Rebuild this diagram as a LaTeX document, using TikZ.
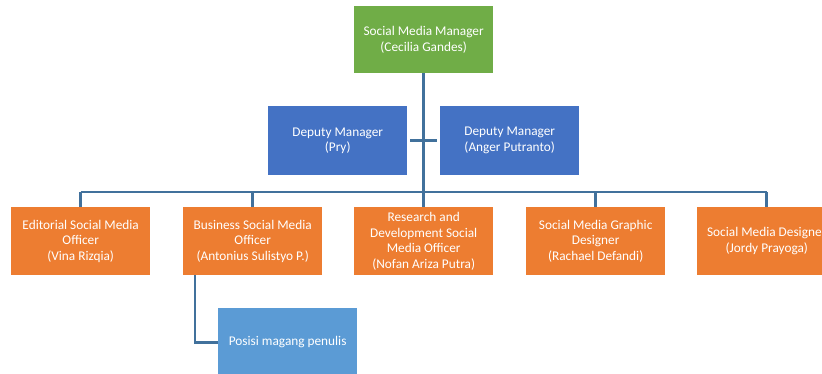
\documentclass[tikz,border=0pt]{standalone}
\usepackage{fontspec}
\setmainfont{Carlito}
\definecolor{mgrgreen}{RGB}{112,173,71}
\definecolor{depblue}{RGB}{68,114,196}
\definecolor{staffor}{RGB}{237,125,49}
\definecolor{internblue}{RGB}{91,155,213}
\definecolor{linkblue}{RGB}{65,113,156}
\begin{document}
\begin{tikzpicture}[x=1pt,y=-1pt,
  box/.style={draw=none, anchor=north west, minimum width=139pt, align=center,
    text=white, inner sep=0pt, font=\fontsize{13.3}{15.7}\selectfont},
  mgrbox/.style={box, fill=mgrgreen, minimum height=67pt},
  depbox/.style={box, fill=depblue, minimum height=69pt},
  staffbox/.style={box, fill=staffor, minimum height=68pt},
  internbox/.style={box, fill=internblue, minimum height=68pt},
  link/.style={draw=linkblue, line width=2.8pt}
]
\useasboundingbox (0,0) rectangle (822,373);
\clip (0,0) rectangle (822,373);

% manager
\node[mgrbox] (mgr) at (354,6) {Social Media Manager\\(Cecilia Gandes)};

% deputies
\node[depbox] (dep1) at (268,106) {Deputy Manager\\(Pry)};
\node[depbox] (dep2) at (440,106) {Deputy Manager\\(Anger Putranto)};

% staff row
\node[staffbox] (ed)  at (11,207)  {Editorial Social Media\\Officer\\(Vina Rizqia)};
\node[staffbox] (bus) at (183,207) {Business Social Media\\Officer\\(Antonius Sulistyo P.)};
\node[staffbox] (rnd) at (354,207) {Research and\\Development Social\\Media Officer\\(Nofan Ariza Putra)};
\node[staffbox] (gra) at (526,207) {Social Media Graphic\\Designer\\(Rachael Defandi)};
\node[staffbox] (des) at (697,207) {Social Media Designer\\(Jordy Prayoga)};

% intern
\node[internbox] (intern) at (218,308) {Posisi magang penulis};

% connectors
\coordinate (hub) at (mgr.south |- 0,192);
\draw[link] (mgr.south) -- (hub);
\draw[link, shorten <=3pt, shorten >=3pt] (dep1.east) -- (dep2.west);
\draw[link] (ed.north |- hub) -- (des.north |- hub);
\foreach \n in {ed,bus,rnd,gra,des}
  \draw[link] (\n.north |- hub) -- (\n.north);
\draw[link] (195,275) |- (intern.west);
\end{tikzpicture}
\end{document}
